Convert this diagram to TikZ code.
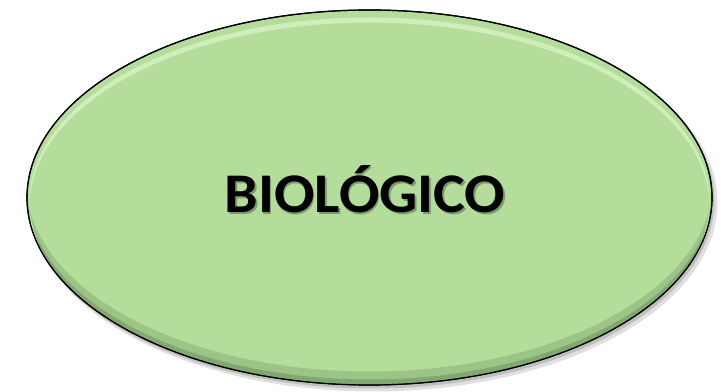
\documentclass[tikz,border=0pt]{standalone}
\usepackage{fontspec}
\setmainfont{Carlito}
\usetikzlibrary{shapes.geometric}
\definecolor{leaf}{RGB}{180,221,156}
\definecolor{leafdark}{RGB}{112,150,96}
\definecolor{leaflight}{RGB}{214,243,196}

\begin{document}
\begin{tikzpicture}[x=1pt,y=1pt,
  blob/.style={ellipse,draw=black,line width=1.2pt,fill=leaf,minimum width=685pt,minimum height=375pt,inner sep=0pt},
  word/.style={font=\bfseries\fontsize{56}{60}\selectfont,anchor=base,inner sep=0pt,xscale=1.07,transform shape}]
\useasboundingbox (0,0) rectangle (723,391);
\coordinate (c) at (369.5,193.5);
% shadow
\fill[black,opacity=.12] ([shift={(4,-5)}]c) ellipse [x radius=344,y radius=189];
\fill[black,opacity=.15] ([shift={(2,-3)}]c) ellipse [x radius=343,y radius=188];
\node[blob] (bio) at (c) {};
% bevel
\begin{scope}
\clip (c) ellipse [x radius=342,y radius=187];
\fill[leafdark,opacity=.35,even odd rule] (c) ellipse [x radius=343,y radius=188] ([yshift=14]c) ellipse [x radius=343,y radius=188];
\fill[leafdark,opacity=.6,even odd rule] (c) ellipse [x radius=343,y radius=188] ([yshift=6]c) ellipse [x radius=343,y radius=188];
\fill[leaflight,opacity=.8,even odd rule] ([yshift=-4]c) ellipse [x radius=340,y radius=184] ([yshift=-9]c) ellipse [x radius=340,y radius=184];
\end{scope}
\draw[line width=1.2pt] (c) ellipse [x radius=342.5,y radius=187.5];
% text
\node[word,text=black,opacity=.3] (txtshadow) at (366.5,176.5) {BIOLÓGICO};
\node[word] (txt) at (365,178) {BIOLÓGICO};
\end{tikzpicture}
\end{document}
